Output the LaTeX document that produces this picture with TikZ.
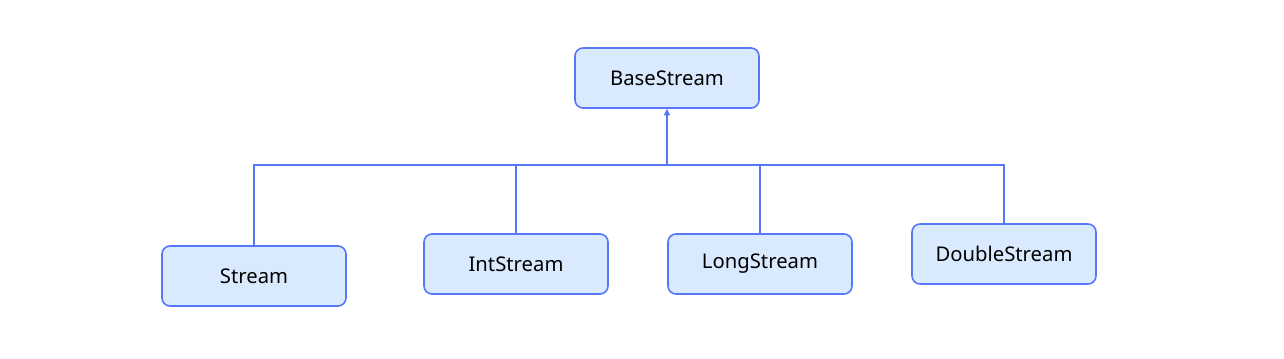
\documentclass[tikz,border=0pt]{standalone}
\usepackage{fontspec}
\setmainfont{Noto Sans}
\usetikzlibrary{arrows.meta}
\definecolor{boxfill}{HTML}{DAEAFE}
\definecolor{boxline}{HTML}{5677F7}
\begin{document}
\begin{tikzpicture}[x=0.75pt,y=-0.75pt,
  cls/.style={draw=boxline,fill=boxfill,line width=1.2pt,rounded corners=6pt,
    minimum width=138pt,minimum height=45pt,inner sep=0pt,font=\fontsize{15.2}{17}\selectfont},
  link/.style={draw=boxline,line width=1.2pt}]
\useasboundingbox (0,0) rectangle (1284,358);
\node[cls] (base) at (667,78) {\raisebox{-1pt}{BaseStream}};
\node[cls] (stream) at (254,276) {\raisebox{-1pt}{Stream}};
\node[cls] (int) at (516,264) {\raisebox{-1pt}{IntStream}};
\node[cls] (long) at (760,264) {\raisebox{-1pt}{LongStream}};
\node[cls] (double) at (1004,254) {\raisebox{-1pt}{DoubleStream}};
\coordinate (j) at (667,165);
\coordinate (jl) at (254,165);
\coordinate (jr) at (1004,165);
\draw[link] (stream.north) -- (jl) -- (jr) -- (double.north);
\draw[link] (int.north) -- (int.north |- j);
\draw[link] (long.north) -- (long.north |- j);
\draw[link,-{Triangle[length=5pt,width=4.5pt]}] (j) -- (base.south);
\end{tikzpicture}
\end{document}
